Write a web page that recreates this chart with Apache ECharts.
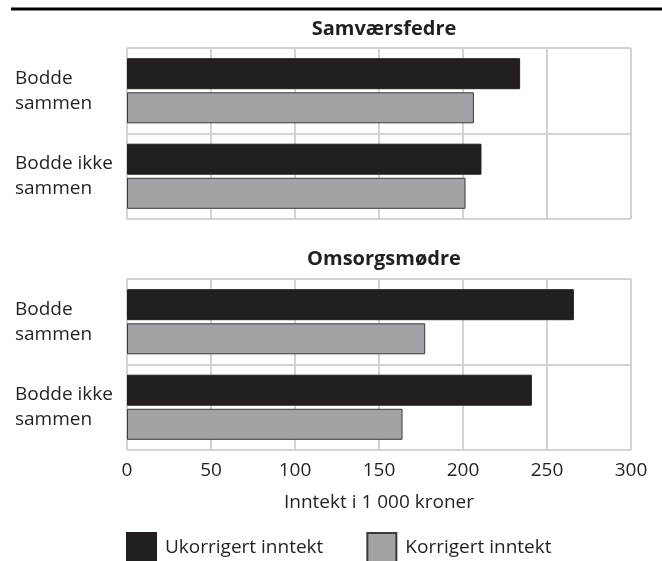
<!DOCTYPE html>
<html>
<head>
    <meta charset="utf-8">
    <title>Inntekt</title>
    <script src="https://cdn.jsdelivr.net/npm/echarts@6/dist/echarts.min.js"></script>
    <style>
        body { margin: 0; background: #fff; }
    </style>
</head>
<body>
    <div id="main" style="width: 662px;height:561px;"></div>

<script>
// kategorier og verdier (1 000 kr)
const categories = ['Bodde\nsammen', 'Bodde ikke\nsammen'];
const panelTitles = ['Samværsfedre', 'Omsorgsmødre'];
const seriesNames = ['Ukorrigert inntekt', 'Korrigert inntekt'];
const fedreUkorrigert = [234, 211];
const fedreKorrigert = [206.5, 201.5];
const modreUkorrigert = [266, 241];
const modreKorrigert = [177.5, 164];
const xTicks = [0, 50, 100, 150, 200, 250, 300];

const FONT = '"Open Sans", sans-serif';
const FS = 19;
const GRID_COLOR = '#d3d3d3';
const BLACK = '#231f20';
const GREY = '#a2a3a6';

const myChart = echarts.init(document.getElementById('main'));

function xAxis(gridIndex, showLabels) {
    return {
        type: 'value',
        gridIndex: gridIndex,
        min: xTicks[0],
        max: xTicks[xTicks.length - 1],
        interval: xTicks[1] - xTicks[0],
        axisLine: { show: false },
        axisTick: { show: false },
        axisLabel: {
            show: showLabels,
            color: '#231f20',
            fontFamily: FONT,
            fontSize: FS,
            margin: 11
        },
        splitLine: { show: true, lineStyle: { color: GRID_COLOR, width: 2 } },
        name: showLabels ? 'Inntekt i 1 000 kroner' : '',
        nameLocation: 'middle',
        nameGap: 43,
        nameTextStyle: { color: '#231f20', fontFamily: FONT, fontSize: FS }
    };
}

function yAxis(gridIndex) {
    return {
        type: 'category',
        gridIndex: gridIndex,
        data: categories,
        inverse: true,
        axisLine: { show: false },
        axisTick: { show: false },
        axisLabel: {
            color: '#231f20',
            fontFamily: FONT,
            fontSize: FS,
            lineHeight: 25,
            align: 'left',
            margin: 112
        },
        splitLine: { show: true, interval: 0, lineStyle: { color: GRID_COLOR, width: 2 } }
    };
}

function barSeries(name, data, idx, color) {
    return {
        name: name,
        type: 'bar',
        xAxisIndex: idx,
        yAxisIndex: idx,
        data: data,
        barWidth: 31,
        barGap: '10%',
        itemStyle: {
            color: color,
            borderColor: color === GREY ? '#3a3a3a' : BLACK,
            borderWidth: 1
        },
        emphasis: { disabled: true }
    };
}

const option = {
    animation: false,
    title: [
        {
            text: panelTitles[0], left: 379, top: 14, textAlign: 'center',
            textStyle: { fontFamily: FONT, fontSize: 20, fontWeight: 'bold', color: '#231f20' }
        },
        {
            text: panelTitles[1], left: 379, top: 244, textAlign: 'center',
            textStyle: { fontFamily: FONT, fontSize: 20, fontWeight: 'bold', color: '#231f20' }
        }
    ],
    grid: [
        { left: 127, right: 31, top: 48, height: 171 },
        { left: 127, right: 31, top: 279, height: 171 }
    ],
    xAxis: [xAxis(0, false), xAxis(1, true)],
    yAxis: [yAxis(0), yAxis(1)],
    legend: {
        data: seriesNames,
        left: 126,
        top: 532,
        padding: 0,
        itemWidth: 29,
        itemHeight: 29,
        itemGap: 43,
        icon: 'rect',
        selectedMode: false,
        textStyle: { fontFamily: FONT, fontSize: FS, color: '#231f20', padding: [0, 0, 0, 4] }
    },
    graphic: [{
        type: 'line',
        shape: { x1: 11, y1: 9, x2: 662, y2: 9 },
        style: { stroke: '#000', lineWidth: 3 }
    }],
    series: [
        barSeries(seriesNames[0], fedreUkorrigert, 0, BLACK),
        barSeries(seriesNames[1], fedreKorrigert, 0, GREY),
        barSeries(seriesNames[0], modreUkorrigert, 1, BLACK),
        barSeries(seriesNames[1], modreKorrigert, 1, GREY)
    ]
};

myChart.setOption(option);
</script>
</body>
</html>
